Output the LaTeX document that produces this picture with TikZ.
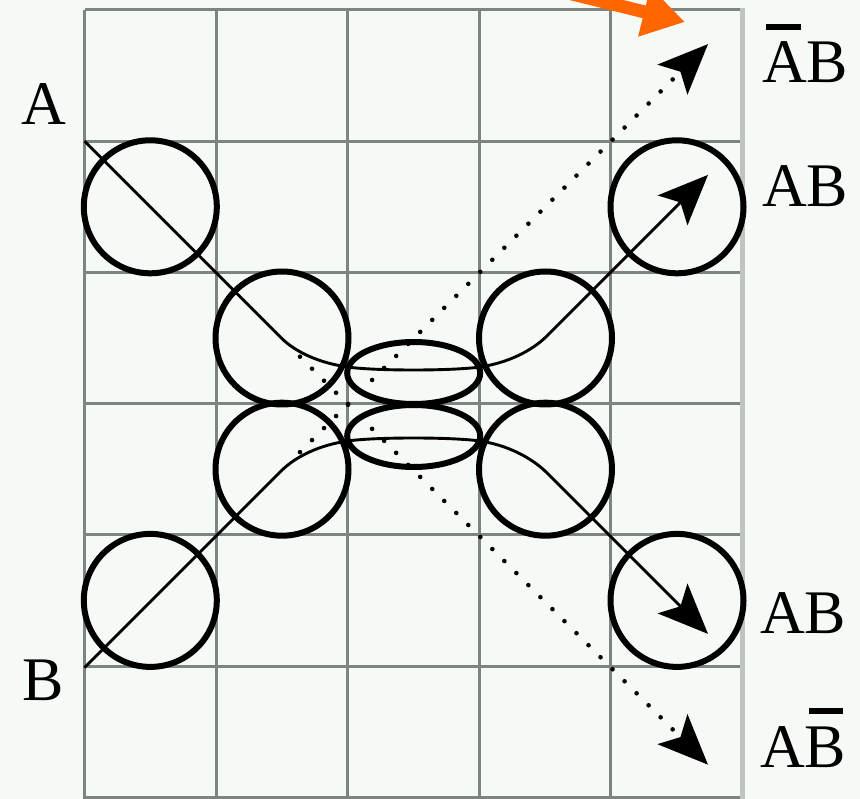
\documentclass[tikz,border=0pt]{standalone}
\usepackage{fontspec}
\setmainfont{Liberation Serif}
\usetikzlibrary{arrows.meta,shapes.geometric}
\definecolor{bg}{HTML}{F6FAF7}
\definecolor{gridc}{HTML}{7E847F}
\definecolor{gridl}{HTML}{BFC4C0}
\definecolor{orng}{HTML}{FF6600}
\newcommand{\myBarA}{\makebox[0pt][l]{\hspace{0.06em}\rule[0.85em]{0.56em}{0.1em}}A}
\newcommand{\myBarB}{\makebox[0pt][l]{\hspace{0.06em}\rule[0.85em]{0.55em}{0.1em}}B}
\begin{document}
\begin{tikzpicture}[x=1pt,y=-1pt,
  ring/.style={circle,draw,line width=6pt,minimum size=133pt,inner sep=0pt},
  lens/.style={ellipse,draw,line width=6pt,minimum width=133pt,minimum height=62pt,inner sep=0pt},
  gridline/.style={gridc,line width=3pt},
  beam/.style={line width=2.9pt,line join=round},
  bigtip/.style={-{Stealth[length=50pt,width=42pt,inset=11pt]}},
  dotbeam/.style={line width=4.6pt,line cap=round,dash pattern=on 0pt off 17pt},
  lbl/.style={anchor=base west,inner sep=0pt,font=\fontsize{62}{70}\selectfont}
]
\useasboundingbox (0,0) rectangle (860,799);
\fill[bg] (0,0) rectangle (860,799);
\clip (0,0) rectangle (860,799);
% grid
\foreach \i in {0,...,4} \draw[gridline] (84.5+131.6*\i,10) -- (84.5+131.6*\i,799);
\foreach \j in {0,...,6} \draw[gridline] (84.5,10+131.2*\j) -- (742.5,10+131.2*\j);
\draw[gridl,line width=4.5pt] (742.5,8.5) -- (742.5,799);
% rings
\node[ring] (c1) at (150.3,206.8) {};
\node[ring] (c2) at (150.3,600.4) {};
\node[ring] (c3) at (282,338) {};
\node[ring] (c4) at (282,469.2) {};
\node[ring] (c5) at (545.5,338) {};
\node[ring] (c6) at (545.5,469.2) {};
\node[ring] (c7) at (677,206.8) {};
\node[ring] (c8) at (677,600.4) {};
\node[lens] (e1) at (413.7,373) {};
\node[lens] (e2) at (413.7,436) {};
% path coordinates
\coordinate (A0) at (84.5,141.2);
\coordinate (A1) at (281,337.7);
\coordinate (A2) at (347.5,367);
\coordinate (A3) at (479.9,367);
\coordinate (A4) at (546.4,336.5);
\coordinate (A5) at (708,174.9);
\coordinate (B0) at (84.5,667.6);
\coordinate (B1) at (281,471.1);
\coordinate (B2) at (347.5,441);
\coordinate (B3) at (479.9,441);
\coordinate (B4) at (546.4,472.3);
\coordinate (B5) at (708,633.9);
\coordinate (DA0) at (300,356.7);
\coordinate (DA1) at (708,764.7);
\coordinate (DB0) at (300,452.1);
\coordinate (DB1) at (708,44.1);
% solid beams
\draw[beam,bigtip] (A0) -- (A1) .. controls (296,352.7) and (320,363) .. (A2)
  .. controls (375,371) and (452,371) .. (A3)
  .. controls (507,363) and (531,351.5) .. (A4) -- (A5);
\draw[beam,bigtip] (B0) -- (B1) .. controls (296,456.1) and (320,445) .. (B2)
  .. controls (375,437) and (452,437) .. (B3)
  .. controls (507,445) and (531,457.3) .. (B4) -- (B5);
% dotted beams
\draw[dotbeam,bigtip] (DA0) -- (DA1);
\draw[dotbeam,bigtip] (DB0) -- (DB1);
% labels
\node[lbl] (lA) at (21,125) {A};
\node[lbl] (lB) at (22,700) {B};
\node[lbl] (l1) at (762,83) {\myBarA B};
\node[lbl] (l2) at (762,207) {AB};
\node[lbl] (l3) at (760,633) {AB};
\node[lbl] (l4) at (760,767) {A\myBarB};
% orange pointer
\coordinate (O0) at (548,-12);
\coordinate (O1) at (685,22);
\draw[orng,line width=13pt,-{Triangle[length=42pt,width=48pt]}] (O0) -- (O1);
\end{tikzpicture}
\end{document}
